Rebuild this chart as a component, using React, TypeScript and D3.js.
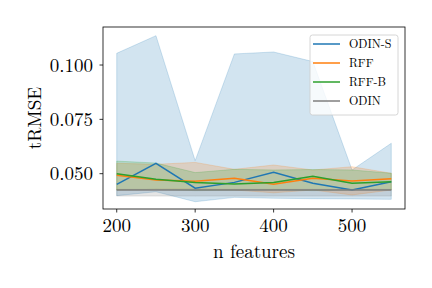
import React from 'react';
import * as d3 from 'd3';

const nFeatures = [200, 250, 300, 350, 400, 450, 500, 550];

const odinSMean = [0.0451, 0.0548, 0.0433, 0.046, 0.0506, 0.0456, 0.0425, 0.0463];
const odinSLow = [0.0399, 0.0417, 0.0371, 0.0391, 0.0387, 0.0385, 0.0384, 0.0382];
const odinSHigh = [0.1054, 0.1135, 0.056, 0.1051, 0.106, 0.1016, 0.0517, 0.064];

const rffMean = [0.0493, 0.0471, 0.0465, 0.0479, 0.0451, 0.0479, 0.0466, 0.0477];
const rffLow = [0.0425, 0.0428, 0.043, 0.0425, 0.0412, 0.0425, 0.0402, 0.0425];
const rffHigh = [0.0548, 0.0543, 0.0552, 0.052, 0.054, 0.0517, 0.0532, 0.0502];

const rffBMean = [0.05, 0.0474, 0.046, 0.0453, 0.0459, 0.0488, 0.0456, 0.0463];
const rffBLow = [0.0425, 0.0428, 0.0422, 0.0424, 0.0426, 0.0422, 0.0425, 0.0426];
const rffBHigh = [0.0558, 0.0549, 0.0505, 0.052, 0.0517, 0.0519, 0.0517, 0.0502];

const odinMean = [0.0425, 0.0425, 0.0425, 0.0425, 0.0425, 0.0425, 0.0425, 0.0425];
const odinLow = [0.0397, 0.0397, 0.0397, 0.0397, 0.0397, 0.0397, 0.0397, 0.0397];
const odinHigh = [0.0428, 0.0428, 0.0428, 0.0428, 0.0428, 0.0428, 0.0428, 0.0428];

const seriesNames = ['ODIN-S', 'RFF', 'RFF-B', 'ODIN'];
const seriesColors = ['#1f77b4', '#ff7f0e', '#2ca02c', '#7f7f7f'];

const xTicks = [200, 300, 400, 500];
const yTicks = [0.05, 0.075, 0.1];

const font = "'Latin Modern Roman', 'CMU Serif', 'Liberation Serif', serif";

const App = () => {
  const width = 432;
  const height = 288;
  const left = 103;
  const right = 405;
  const top = 27;
  const bottom = 209;

  const x = d3.scaleLinear().domain([182.5, 567.5]).range([left, right]);
  const y = d3.scaleLinear().domain([0.03375, 0.1175]).range([bottom, top]);

  const series = [
    { mean: odinSMean, low: odinSLow, high: odinSHigh },
    { mean: rffMean, low: rffLow, high: rffHigh },
    { mean: rffBMean, low: rffBLow, high: rffBHigh },
    { mean: odinMean, low: odinLow, high: odinHigh },
  ];

  const line = d3
    .line<number>()
    .x((_, i) => x(nFeatures[i]))
    .y((d) => y(d));

  const area = (low: number[], high: number[]) =>
    d3
      .area<number>()
      .x((_, i) => x(nFeatures[i]))
      .y0((_, i) => y(low[i]))
      .y1((_, i) => y(high[i]))(low);

  return (
    <div style={{ position: 'fixed', left: 0, top: 0 }}>
      <svg width={width} height={height} style={{ display: 'block', background: '#fff' }}>
        <defs>
          <clipPath id="plot-clip">
            <rect x={left} y={top} width={right - left} height={bottom - top} />
          </clipPath>
        </defs>
        <g clipPath="url(#plot-clip)">
          {series.map((s, i) => (
            <path
              key={`band-${i}`}
              d={area(s.low, s.high) || ''}
              fill={seriesColors[i]}
              fillOpacity={0.2}
              stroke={seriesColors[i]}
              strokeOpacity={0.2}
              strokeWidth={1}
            />
          ))}
          {series.map((s, i) => (
            <path
              key={`line-${i}`}
              d={line(s.mean) || ''}
              fill="none"
              stroke={seriesColors[i]}
              strokeWidth={1.5}
            />
          ))}
        </g>
        <rect x={left} y={top} width={right - left} height={bottom - top} fill="none" stroke="#000" strokeWidth={0.8} />

        {xTicks.map((t) => (
          <g key={`xt-${t}`} transform={`translate(${x(t)},${bottom})`}>
            <line y2={3.5} stroke="#000" strokeWidth={0.8} />
            <text y={23} textAnchor="middle" fontFamily={font} fontSize={19} fill="#000">
              {t}
            </text>
          </g>
        ))}
        {yTicks.map((t) => (
          <g key={`yt-${t}`} transform={`translate(${left},${y(t)})`}>
            <line x2={-3.5} stroke="#000" strokeWidth={0.8} />
            <text x={-10} dy="0.35em" textAnchor="end" fontFamily={font} fontSize={19} fill="#000">
              {d3.format('.3f')(t)}
            </text>
          </g>
        ))}

        <text x={(left + right) / 2} y={258} textAnchor="middle" fontFamily={font} fontSize={19} fill="#000">
          n features
        </text>
        <text
          transform={`translate(${41},${(top + bottom) / 2}) rotate(-90)`}
          textAnchor="middle"
          fontFamily={font}
          fontSize={19}
          fill="#000"
        >
          tRMSE
        </text>

        <g transform="translate(310,35)">
          <rect width={88} height={80} rx={2.5} fill="#fff" fillOpacity={0.8} stroke="#ccc" strokeWidth={0.8} />
          {seriesNames.map((name, i) => (
            <g key={name} transform={`translate(0,${9 + i * 19})`}>
              <line x1={3} x2={30} stroke={seriesColors[i]} strokeWidth={1.5} />
              <text x={39} dy="0.35em" fontFamily={font} fontSize={12} fill="#000">
                {name}
              </text>
            </g>
          ))}
        </g>
      </svg>
    </div>
  );
};

export default App;
